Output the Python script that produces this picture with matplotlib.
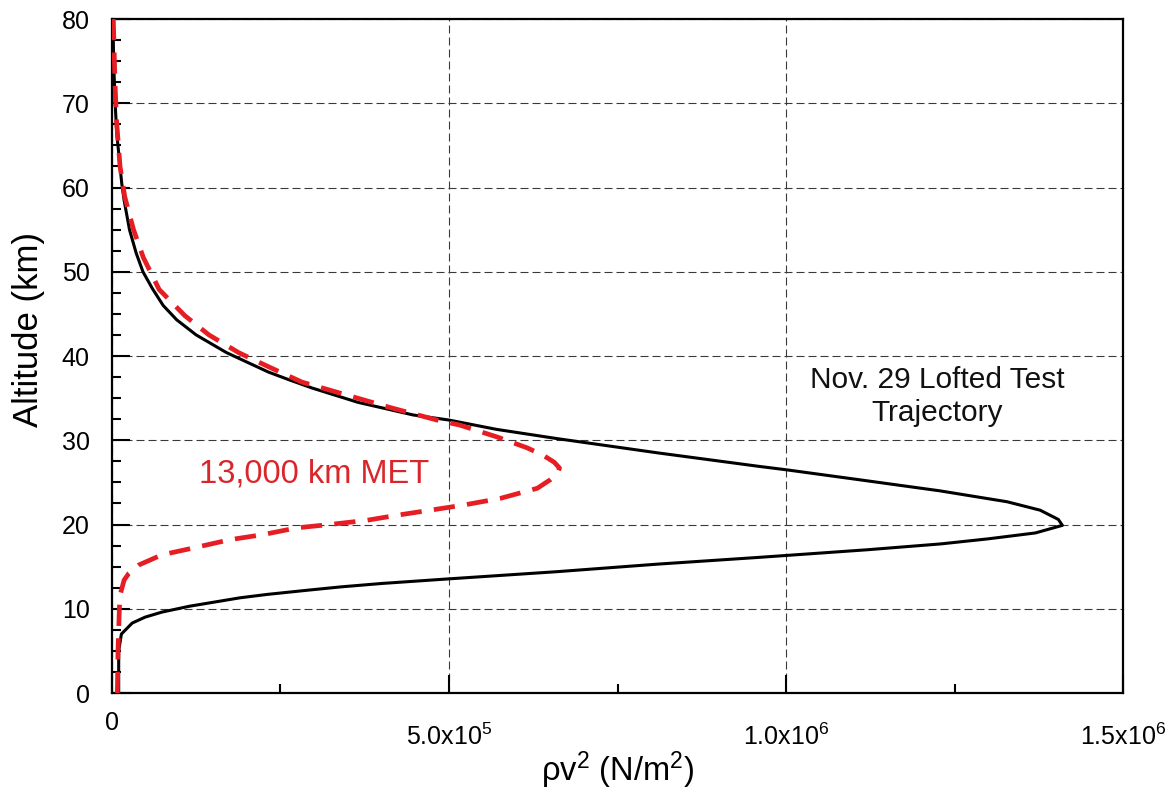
import matplotlib
matplotlib.use("Agg")
import matplotlib.pyplot as plt
from matplotlib.ticker import MultipleLocator, FixedLocator, FixedFormatter

plt.rcParams["font.family"] = ["Liberation Sans", "DejaVu Sans"]
plt.rcParams["mathtext.fontset"] = "custom"
plt.rcParams["mathtext.rm"] = "Liberation Sans"
plt.rcParams["mathtext.default"] = "regular"

# Nov. 29 lofted test trajectory (black)
lofted_alt = [0, 5, 7, 8.3, 9.0, 9.6, 10.3, 11.3, 11.7, 12.2, 12.6, 13.0, 13.55, 14.4,
              15.3, 16.1, 17.0, 17.7, 18.3, 19.0, 19.9, 20.6, 21.7, 22.7, 24.0, 25.3,
              26.5, 26.9, 28.5, 30.2, 31.3, 32.4, 33.0, 34.5, 36.2, 37.2, 38.1, 40.4,
              42.5, 44.3, 46.0, 48.0, 50.0, 52.2, 55.0, 58.5, 60.5, 66.5, 70.4, 75, 80]
lofted_q = [1.0e4, 1.0e4, 1.4e4, 3.0e4, 4.9e4, 7.4e4, 1.15e5, 1.9e5, 2.3e5, 2.9e5,
            3.4e5, 4.0e5, 5.0e5, 6.6e5, 8.1e5, 9.6e5, 1.12e6, 1.23e6, 1.30e6,
            1.37e6, 1.41e6, 1.404e6, 1.377e6, 1.328e6, 1.228e6, 1.11e6, 1.0e6,
            9.6e5, 8.1e5, 6.6e5, 5.7e5, 5.0e5, 4.47e5, 3.65e5, 2.97e5, 2.62e5,
            2.32e5, 1.7e5, 1.25e5, 9.6e4, 7.6e4, 6.0e4, 4.6e4, 3.6e4, 2.6e4, 1.8e4,
            1.45e4, 7e3, 4.5e3, 2.5e3, 1.5e3]

# 13,000 km MET (red dashed)
met_alt = [0, 5, 10, 11.6, 13.4, 14.2, 15.2, 16.4, 17.2, 18.2, 18.8, 19.6, 20.0, 20.5,
           21.1, 21.7, 22.3, 23.1, 24.3, 25.3, 26.0, 26.7, 27.4, 28.2, 29.1, 30.4,
           31.8, 32.4, 33.9, 36.9, 38.7, 40.4, 42.5, 44.8, 47.9, 51.7, 55.0, 58.9,
           62.5, 67.7, 72.4, 80]
met_q = [8e3, 9e3, 1.1e4, 1.2e4, 1.8e4, 2.5e4, 4.0e4, 7.4e4, 1.2e5, 1.75e5, 2.24e5,
         2.74e5, 3.23e5, 3.78e5, 4.23e5, 4.72e5, 5.21e5, 5.76e5, 6.31e5, 6.5e5,
         6.6e5, 6.64e5, 6.56e5, 6.4e5, 6.16e5, 5.71e5, 5.16e5, 4.82e5, 4.12e5,
         2.82e5, 2.33e5, 1.88e5, 1.44e5, 1.08e5, 7.0e4, 4.65e4, 3.2e4, 1.9e4,
         1.2e4, 7e3, 4.5e3, 2e3]

x_ticks = [0, 5e5, 1e6, 1.5e6]
x_tick_labels = ["", r"5.0x10$^{5}$", r"1.0x10$^{6}$", r"1.5x10$^{6}$"]

fig = plt.figure(figsize=(11.65, 7.93), dpi=100)
ax = fig.add_axes([0.0961, 0.1261, 0.8679, 0.8499])

ax.plot(lofted_q, lofted_alt, color="black", lw=2.2, zorder=3)
ax.plot(met_q, met_alt, color="#e61e24", lw=3.4, dashes=(4.5, 2.6), zorder=4)

ax.set_xlim(0, 1.5e6)
ax.set_ylim(0, 80)

ax.xaxis.set_major_locator(FixedLocator(x_ticks))
ax.xaxis.set_major_formatter(FixedFormatter(x_tick_labels))
ax.xaxis.set_minor_locator(MultipleLocator(2.5e5))
ax.yaxis.set_major_locator(MultipleLocator(10))
ax.yaxis.set_minor_locator(MultipleLocator(2.5))

ax.tick_params(which="both", direction="in", top=False, right=False, width=1.5,
               colors="black")
ax.tick_params(which="major", length=13)
ax.tick_params(which="minor", length=6.5)
ax.tick_params(axis="y", labelsize=18, pad=16)
ax.tick_params(axis="x", labelsize=18, pad=22)

for spine in ax.spines.values():
    spine.set_linewidth(1.6)

ax.grid(True, which="major", color="#3a3a3a", lw=0.8, linestyle=(0, (7.2, 3.6)))
ax.set_axisbelow(True)

# the "0" on the x axis sits higher than the other labels
ax.text(0, -0.027, "0", transform=ax.get_xaxis_transform(), ha="center", va="top",
        fontsize=18)

ax.set_xlabel(r"ρv$^{2}$ (N/m$^{2}$)", fontsize=23.5, labelpad=0)
ax.set_ylabel("Altitude (km)", fontsize=25)
ax.yaxis.set_label_coords(-0.066, 0.54)

ax.text(3.0e5, 26.0, "13,000 km MET", color="#d9262b", fontsize=23.5,
        ha="center", va="center")
ax.text(1.224e6, 35.2, "Nov. 29 Lofted Test\nTrajectory", color="#111111",
        fontsize=21.5, ha="center", va="center", linespacing=1.25)

plt.savefig("out.png", dpi=100)
plt.close()
